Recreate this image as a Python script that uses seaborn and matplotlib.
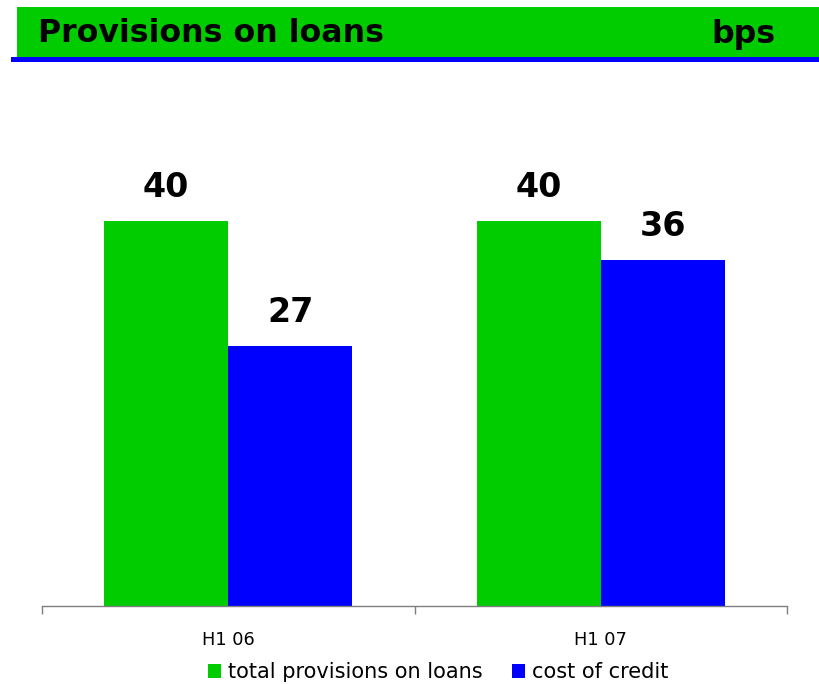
import matplotlib
matplotlib.use("Agg")
import matplotlib.pyplot as plt
from matplotlib.patches import Rectangle
import seaborn as sns
import pandas as pd

# Chart data
periods = ["H1 06", "H1 07"]
series_names = ["total provisions on loans", "cost of credit"]
total_provisions = [40, 40]
cost_of_credit = [27, 36]

title_text = "Provisions on loans"
unit_text = "bps"

green = "#00CC00"
blue = "#0000FF"

df = pd.DataFrame({
    "period": periods * 2,
    "series": [series_names[0]] * len(periods) + [series_names[1]] * len(periods),
    "value": total_provisions + cost_of_credit,
})

sns.set_theme(style="white")
plt.rcParams["font.family"] = ["DejaVu Sans"]
plt.rcParams["text.color"] = "black"

fig = plt.figure(figsize=(8.19, 6.84), dpi=100)

# Header band with title and unit
fig.patches.append(Rectangle((17 / 819, 1 - 57 / 684), 1 - 17 / 819, 50 / 684,
                             transform=fig.transFigure, facecolor=green,
                             edgecolor="none", zorder=1))
fig.patches.append(Rectangle((11 / 819, 1 - 62 / 684), 1 - 11 / 819, 5 / 684,
                             transform=fig.transFigure, facecolor=blue,
                             edgecolor="none", zorder=2))
fig.text(38 / 819, 1 - 34 / 684, title_text, fontsize=22.8, fontweight="bold",
         color="black", va="center", ha="left")
fig.text(775 / 819, 1 - 34 / 684, unit_text, fontsize=22.8, fontweight="bold",
         color="black", va="center", ha="right")

# Plot area
ax = fig.add_axes([42 / 819, 78 / 684, 745 / 819, 481.25 / 684])
sns.barplot(data=df, x="period", y="value", hue="series",
            palette=[green, blue], width=0.667, saturation=1,
            edgecolor="none", linewidth=0, ax=ax, legend=True)

ax.set_xlim(-0.5, 1.5)
ax.set_ylim(0, 50)

for container in ax.containers:
    ax.bar_label(container, fmt="%d", fontsize=24, fontweight="bold",
                 padding=12, color="black")

for side in ["top", "right", "left"]:
    ax.spines[side].set_visible(False)
ax.spines["bottom"].set_color("#7f7f7f")
ax.spines["bottom"].set_linewidth(1.0)

ax.set_yticks([])
ax.set_xticks([-0.5, 0.5, 1.5])
ax.set_xticklabels([])
ax.tick_params(axis="x", which="major", length=6, width=1, color="#7f7f7f",
               direction="out", bottom=True)
ax.set_xticks([0, 1], minor=True)
ax.set_xticklabels(periods, minor=True)
ax.tick_params(axis="x", which="minor", length=0, pad=18, labelsize=12.8,
               labelcolor="black")
ax.set_xlabel("")
ax.set_ylabel("")

handles, labels = ax.get_legend_handles_labels()
ax.get_legend().remove()
leg = fig.legend(handles, labels, loc="center",
                 bbox_to_anchor=(438 / 819, 1 - 672 / 684),
                 ncol=2, frameon=False, fontsize=15, handlelength=0.65,
                 handleheight=0.65, handletextpad=0.33, columnspacing=1.4,
                 borderpad=0)
for t in leg.get_texts():
    t.set_color("black")

fig.savefig("out.png", dpi=100)
